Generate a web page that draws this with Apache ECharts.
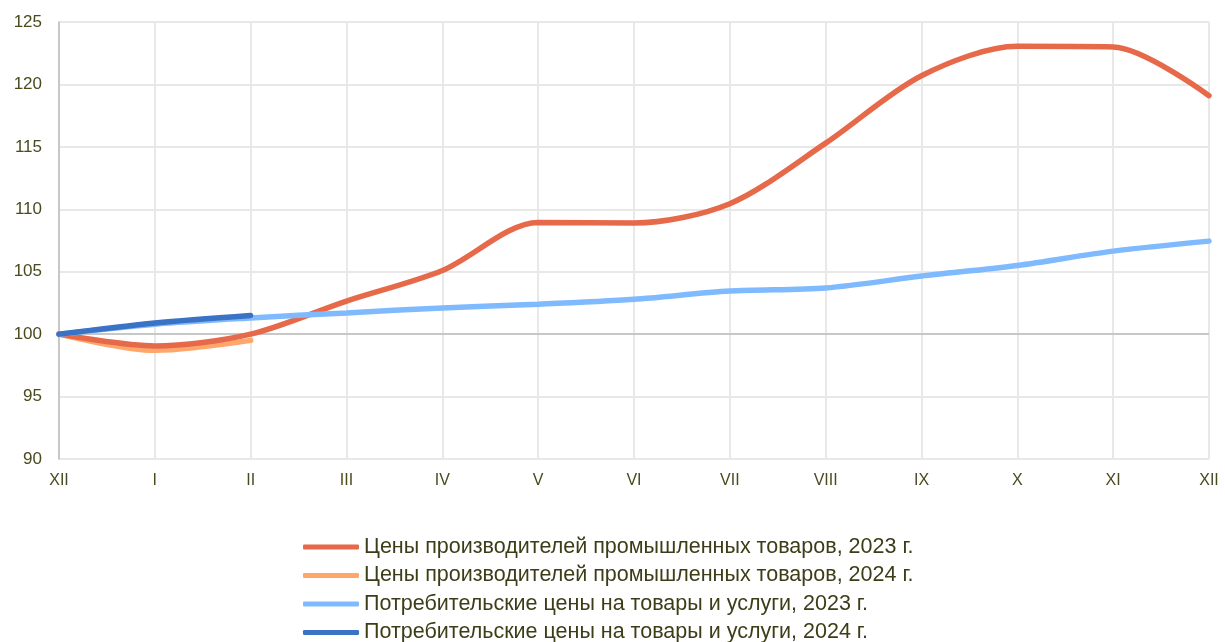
<!DOCTYPE html>
<html>
<head>
<meta charset="utf-8">
<script src="https://cdn.jsdelivr.net/npm/echarts@6/dist/echarts.min.js"></script>
<style>
  html, body { margin: 0; padding: 0; background: #fff; }
  #chart { width: 1225px; height: 642px; }
</style>
</head>
<body>
<div id="chart"></div>
<script>
// months, starting from December of the previous year
const months = ['XII', 'I', 'II', 'III', 'IV', 'V', 'VI', 'VII', 'VIII', 'IX', 'X', 'XI', 'XII'];

const ppi2023 = [100, 99.05, 100.0, 102.65, 105.1, 108.95, 108.9, 110.45, 115.3, 120.7, 123.05, 123.0, 119.1];
const ppi2024 = [100, 98.7, 99.5];
const cpi2023 = [100, 100.8, 101.3, 101.7, 102.1, 102.4, 102.8, 103.45, 103.7, 104.65, 105.5, 106.65, 107.45];
const cpi2024 = [100, 100.9, 101.5];

const names = [
  'Цены производителей промышленных товаров, 2023 г.',
  'Цены производителей промышленных товаров, 2024 г.',
  'Потребительские цены на товары и услуги, 2023 г.',
  'Потребительские цены на товары и услуги, 2024 г.'
];
const colors = ['#e6694a', '#ffa66b', '#7fbaff', '#3a72c6'];

const chart = echarts.init(document.getElementById('chart'));

function line(name, data, color, z) {
  return {
    name: name,
    type: 'line',
    data: data,
    smooth: 0.3,
    symbol: 'none',
    z: z,
    lineStyle: { color: color, width: 5.5, cap: 'round' },
    itemStyle: { color: color }
  };
}

const series = [
  line(names[0], ppi2023, colors[0], 4),
  line(names[1], ppi2024, colors[1], 3),
  line(names[2], cpi2023, colors[2], 5),
  line(names[3], cpi2024, colors[3], 6)
];
// horizontal axis line crossing at 100
series[0].markLine = {
  silent: true,
  symbol: 'none',
  label: { show: false },
  lineStyle: { color: '#bdbdbd', width: 1.5, type: 'solid' },
  data: [{ yAxis: 100 }],
  z: 1
};

chart.setOption({
  backgroundColor: '#ffffff',
  animation: false,
  grid: { left: 59, right: 16, top: 22, bottom: 183 },
  legend: {
    orient: 'vertical',
    left: 298,
    top: 531,
    height: 120,
    itemWidth: 56,
    itemHeight: 5,
    itemGap: 6.5,
    icon: 'roundRect',
    data: names,
    textStyle: {
      fontFamily: 'Liberation Sans',
      fontSize: 21.5,
      color: '#3d3d18'
    }
  },
  xAxis: {
    type: 'category',
    data: months,
    boundaryGap: false,
    axisLine: { show: false },
    axisTick: { show: false },
    axisLabel: {
      margin: 14,
      fontFamily: 'Liberation Sans',
      fontSize: 16,
      color: '#4a4a1e'
    },
    splitLine: { show: true, lineStyle: { color: '#e8e8e8', width: 2 } }
  },
  yAxis: {
    type: 'value',
    min: 90,
    max: 125,
    interval: 5,
    axisLine: { show: true, lineStyle: { color: '#bdbdbd', width: 1.5 } },
    axisTick: { show: false },
    axisLabel: {
      margin: 17,
      fontFamily: 'Liberation Sans',
      fontSize: 17,
      color: '#4a4a1e'
    },
    splitLine: { show: true, lineStyle: { color: '#e8e8e8', width: 2 } }
  },
  series: series
});
</script>
</body>
</html>
